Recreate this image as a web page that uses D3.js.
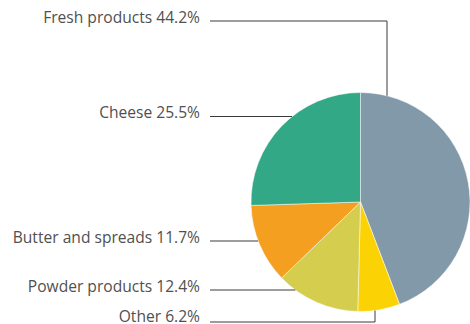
<!DOCTYPE html>
<html>
<head>
<meta charset="utf-8">
<script src="https://cdn.jsdelivr.net/npm/d3@7"></script>
<style>
  body { margin: 0; background: #fff; }
  text { font-family: "Open Sans", sans-serif; font-size: 15.6px; fill: #505050; }
</style>
</head>
<body>
<div id="chart-area"></div>
<script>
// Data
let categories = ["Fresh products", "Other", "Powder products", "Butter and spreads", "Cheese"];
let shares = [44.2, 6.2, 12.4, 11.7, 25.5];
let colors = ["#8299a9", "#fbd203", "#d5cd4e", "#f59f20", "#33a886"];

// label layout (y of each leader line, elbow x for the ones that bend)
let labelY = [21, 322, 290, 241, 116.5];
let elbowX = [387, 375, null, null, null];

let width = 470, height = 324;
let cx = 360.5, cy = 202, radius = 109.5;
let labelRight = 200, lineStart = 210;

let svg = d3.select("#chart-area").append("svg")
    .attr("width", width)
    .attr("height", height);

let pie = d3.pie().sort(null).value(d => d)
    .startAngle(0).endAngle(2 * Math.PI);
let arc = d3.arc().innerRadius(0).outerRadius(radius);

let g = svg.append("g").attr("transform", "translate(" + cx + "," + cy + ")");
g.selectAll("path")
    .data(pie(shares))
    .enter()
    .append("path")
    .attr("d", arc)
    .attr("fill", (d, i) => colors[i])
    .attr("stroke", "#fff")
    .attr("stroke-width", 0.5);

// Leader lines + labels
let lines = svg.append("g");
categories.forEach((c, i) => {
    let y = labelY[i];
    let pts;
    if (elbowX[i] != null) {
        let dx = elbowX[i] - cx;
        let edge = Math.sqrt(radius * radius - dx * dx);
        let yEdge = y < cy ? cy - edge : cy + edge;
        pts = [[lineStart, y], [elbowX[i], y], [elbowX[i], yEdge]];
    } else {
        let dy = y - cy;
        let xEdge = cx - Math.sqrt(radius * radius - dy * dy);
        pts = [[lineStart, y], [xEdge, y]];
    }
    lines.append("path")
        .attr("d", d3.line()(pts))
        .attr("fill", "none")
        .attr("stroke", "#3a3a3a")
        .attr("stroke-width", 1);

    svg.append("text")
        .attr("x", labelRight)
        .attr("y", Math.min(y + 1.5, 322))
        .attr("text-anchor", "end")
        .text(c + " " + shares[i] + "%");
});
</script>
</body>
</html>
